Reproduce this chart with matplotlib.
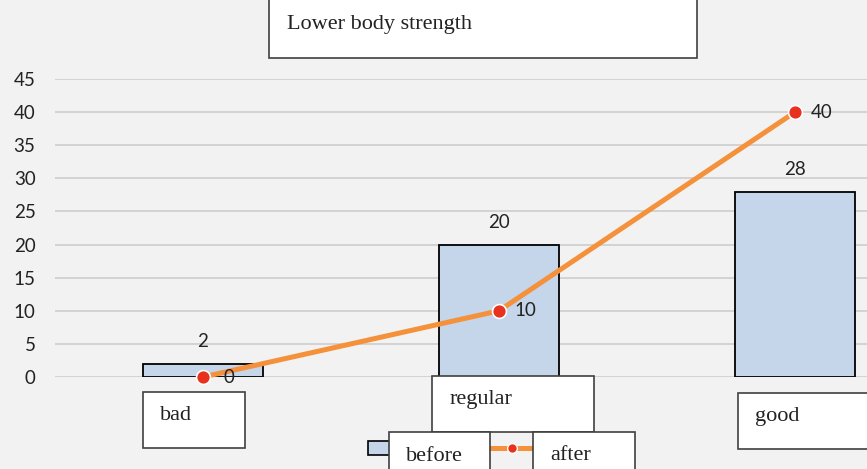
import matplotlib.pyplot as plt
from matplotlib.patches import Rectangle
from matplotlib.lines import Line2D

# lower body strength, before / after
categorias = ["bad", "regular", "good"]
antes = [2, 20, 28]
depois = [0, 10, 40]
series = ["before", "after"]
titulo = "Lower body strength"

W, H = 867, 469
fundo = "#f2f2f2"
azul = "#c5d5ea"
laranja = "#f4913a"
vermelho = "#e8321e"

fig = plt.figure(figsize=(W / 100, H / 100), dpi=100, facecolor=fundo)


def px(x, y):
    # pixel (from top-left) -> figure fraction
    return x / W, 1 - y / H


def caixa(x0, y0, x1, y1, texto, tx, ty):
    l, t = px(x0, y0)
    r, b = px(x1, y1)
    fig.patches.append(Rectangle((l, b), r - l, t - b, transform=fig.transFigure,
                                 facecolor="white", edgecolor="#404040", lw=1.2, zorder=5))
    fx, fy = px(tx, ty + 2)
    fig.text(fx, fy, texto, family="Liberation Serif", fontsize=16, color="#222222",
             ha="left", va="center", zorder=6)


ax = fig.add_axes([55 / W, (H - 377) / H, 888 / W, 298 / H])
ax.set_facecolor(fundo)
ax.set_xlim(-0.5, 2.5)
ax.set_ylim(0, 45)
ax.set_yticks(range(0, 46, 5))
ax.set_xticks([])
for s in ax.spines.values():
    s.set_visible(False)
ax.tick_params(axis="y", length=0, pad=14, labelsize=13.5, labelcolor="#222222")
for lb in ax.get_yticklabels():
    lb.set_family("Lato")
ax.grid(axis="y", color="#d0d0d0", lw=1.3)
ax.set_axisbelow(True)

x = range(len(categorias))
barras = ax.bar(x, antes, width=0.405, color=azul, edgecolor="black", lw=1.3, zorder=2)
for i, v in enumerate(antes):
    ax.annotate(str(v), (i, v), xytext=(0, 16), textcoords="offset points",
                ha="center", va="center", fontsize=13.5, family="Lato", color="#222222")

ax.plot(x, depois, color=laranja, lw=3.6, zorder=3, clip_on=False, solid_capstyle="round")
ax.plot(x, depois, "o", ms=10, color=vermelho, mec="white", mew=1.2, zorder=4, clip_on=False)
for i, v in enumerate(depois):
    ax.annotate(str(v), (i, v), xytext=(19, 0), textcoords="offset points",
                ha="center", va="center", fontsize=13.5, family="Lato", color="#222222")

# title and category boxes
caixa(269, -5, 697, 58, titulo, 287, 23)
caixa(143, 392, 245, 448, categorias[0], 160, 413)
caixa(432, 376, 594, 432, categorias[1], 450, 397)
caixa(738, 393, 880, 449, categorias[2], 755, 414)

# legend
l, t = px(368, 441)
r, b = px(392, 455)
fig.patches.append(Rectangle((l, b), r - l, t - b, transform=fig.transFigure,
                             facecolor=azul, edgecolor="black", lw=1.2, zorder=4))
caixa(389, 432, 490, 480, series[0], 406, 454)
caixa(533, 432, 635, 480, series[1], 550, 453)
a, yy = px(490, 448)
c, _ = px(533, 448)
fig.lines.append(Line2D([a, c], [yy, yy], transform=fig.transFigure, color=laranja, lw=3.6, zorder=4))
mx, _ = px(512, 448)
fig.lines.append(Line2D([mx], [yy], transform=fig.transFigure, marker="o", ms=7,
                        color=vermelho, mec="white", mew=1, zorder=4))

fig.savefig("out.png", dpi=100, facecolor=fundo)
